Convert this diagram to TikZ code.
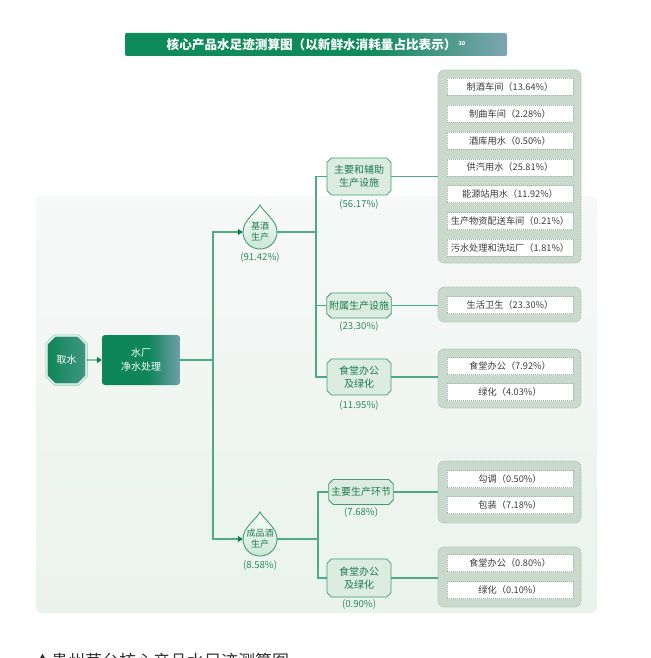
\documentclass[tikz,border=0pt]{standalone}
\usepackage{fontspec}
\setmainfont{Noto Sans CJK SC}
\usetikzlibrary{shapes.misc,arrows.meta,calc}
\definecolor{tg}{HTML}{0F8A5B}
\definecolor{tb}{HTML}{7DA6B0}
\definecolor{wg}{HTML}{0E8659}
\definecolor{wb}{HTML}{6E9FA8}
\definecolor{qg}{HTML}{0F8558}
\definecolor{qb}{HTML}{3F9681}
\definecolor{qring}{HTML}{8FCDB0}
\definecolor{lineg}{HTML}{4DAA84}
\definecolor{arrowg}{HTML}{137A4F}
\definecolor{txtg}{HTML}{1F7A4F}
\definecolor{pctg}{HTML}{2C8A5E}
\definecolor{boxfill}{HTML}{DCECE0}
\definecolor{boxdraw}{HTML}{3F9C70}
\definecolor{panelfill}{HTML}{C9D9CC}
\definecolor{paneldraw}{HTML}{9DBAA4}
\definecolor{itemdraw}{HTML}{A3B3A8}
\definecolor{itemtxt}{HTML}{3B3B3B}
\definecolor{bgtop}{HTML}{F7F8F8}
\definecolor{bgbot}{HTML}{E9F3EC}
\definecolor{dropfill}{HTML}{CBE7D5}
\definecolor{capt}{HTML}{333333}
\pgfdeclarehorizontalshading{titleshade}{100bp}{color(0bp)=(tg); color(25bp)=(tg); color(57bp)=(tg); color(75bp)=(tb); color(100bp)=(tb)}
\pgfdeclarehorizontalshading{plantshade}{100bp}{color(0bp)=(wg); color(25bp)=(wg); color(55bp)=(wg); color(75bp)=(wb); color(100bp)=(wb)}
\tikzset{
  conn/.style={draw=lineg, line width=1.1pt},
  arr/.style={conn, -{Triangle[length=5pt,width=6pt,color=arrowg,fill=arrowg]}},
  titlebar/.style={shade, shading=titleshade, rounded corners=2pt, minimum width=382pt, minimum height=23pt, text=white, inner sep=0pt, font=\bfseries\fontsize{12.6}{14}\selectfont},
  takebox/.style={chamfered rectangle, chamfered rectangle xsep=4pt, chamfered rectangle ysep=4pt, inner sep=0pt, minimum width=39pt, minimum height=48pt, left color=qg, right color=qb, draw=white, line width=1.2pt, preaction={draw=qring, line width=3pt}, text=white, font=\fontsize{10}{12}\selectfont},
  plant/.style={shade, shading=plantshade, rounded corners=3pt, minimum width=78pt, minimum height=50pt, inner sep=0pt, align=center, text=white, font=\fontsize{10}{14}\selectfont},
  droptext/.style={circle, minimum size=34pt, inner sep=0pt, align=center, text=txtg, font=\fontsize{9}{11}\selectfont},
  dropst/.style={draw=boxdraw, line width=0.9pt, top color=white, bottom color=dropfill},
  midbox/.style={chamfered rectangle, chamfered rectangle xsep=2.2pt, chamfered rectangle ysep=2.2pt, inner sep=0pt, minimum width=64pt, fill=boxfill, draw=boxdraw, line width=0.8pt, text=txtg, align=center, font=\fontsize{10}{13}\selectfont},
  pct/.style={text=pctg, inner sep=0pt, font=\fontsize{9.6}{11}\selectfont},
  panel/.style={rounded corners=6pt, fill=panelfill, draw=paneldraw, dash pattern=on 1pt off 1pt, line width=0.6pt, minimum width=143pt, inner sep=0pt},
  item/.style={fill=white, draw=itemdraw, dash pattern=on 1pt off 1pt, line width=0.5pt, minimum width=126pt, minimum height=17pt, inner sep=0pt, text=itemtxt, font=\fontsize{9.2}{11}\selectfont},
}
\newcommand{\mydrop}[2]{%
  \draw[dropst] (#1,#2-27) .. controls (#1-4,#2-19) and (#1-17,#2-12) .. (#1-17,#2) .. controls (#1-17,#2+9.4) and (#1-9.4,#2+17) .. (#1,#2+17) .. controls (#1+9.4,#2+17) and (#1+17,#2+9.4) .. (#1+17,#2) .. controls (#1+17,#2-12) and (#1+4,#2-19) .. (#1,#2-27) -- cycle;}
\begin{document}
\begin{tikzpicture}[x=1pt,y=-1pt]
\useasboundingbox (0,0) rectangle (650,658);
\fill[white] (0,0) rectangle (650,658);
\shade[top color=bgtop, bottom color=bgbot, rounded corners=6pt] (36,196) rectangle (597,613);

% title
\node[titlebar] (title) at (316,44.5) {核心产品水足迹测算图（以新鲜水消耗量占比表示）\,\raisebox{3.5pt}{\fontsize{5.5}{6}\selectfont 20}};

% source and plant
\node[takebox] (q) at (66.5,360) {取水};
\node[plant] (w) at (141,360) {水厂\\净水处理};
\draw[arr] (q) -- (w);

% droplets
\mydrop{260}{232}
\mydrop{260}{539}
\node[droptext] (d1) at (260,232) {基酒\\生产};
\node[droptext] (d2) at (260,539) {成品酒\\生产};
\node[pct] (l1) at (260,258) {(91.42\%)};
\node[pct] (l5) at (260,566) {(8.58\%)};

\coordinate (t1) at (213,360);
\draw[conn] (w.east) -- (t1);
\draw[arr] (t1) |- (d1.west);
\draw[arr] (t1) |- (d2.west);

% middle boxes
\node[midbox, minimum height=37pt] (m1) at (359,176.5) {主要和辅助\\生产设施};
\node[midbox, minimum height=25pt] (m2) at (359,305.5) {附属生产设施};
\node[midbox, minimum height=36pt] (m3) at (359,377) {食堂办公\\及绿化};
\node[midbox, minimum height=25pt] (m4) at (361,492) {主要生产环节};
\node[midbox, minimum height=38pt] (m5) at (359,578) {食堂办公\\及绿化};
\node[pct] (l2) at (359,205) {(56.17\%)};
\node[pct] (l3) at (359,327) {(23.30\%)};
\node[pct] (l4) at (359,406) {(11.95\%)};
\node[pct] (l6) at (361,513) {(7.68\%)};
\node[pct] (l7) at (359,605) {(0.90\%)};

\coordinate (j1) at (316,232);
\coordinate (j2) at (318,539);
\draw[conn] (d1.east) -- (j1);
\draw[conn] (j1) |- (m1.west);
\draw[conn] (j1) |- (m2.west);
\draw[conn] (j1) |- (m3.west);
\draw[conn] (d2.east) -- (j2);
\draw[conn] (j2) |- (m4.west);
\draw[conn] (j2) |- (m5.west);

% panels
\node[panel, minimum height=193pt] (p1) at (509.5,166.5) {};
\node[panel, minimum height=35pt] (p2) at (509.5,304.5) {};
\node[panel, minimum height=59pt] (p3) at (509.5,378.5) {};
\node[panel, minimum height=62pt] (p4) at (509.5,492) {};
\node[panel, minimum height=60pt] (p5) at (509.5,577) {};

\draw[conn] (m1.east) -- (m1.east -| p1.west);
\draw[conn] (m2.east) -- (m2.east -| p2.west);
\draw[conn] (m3.east) -- (m3.east -| p3.west);
\draw[conn] (m4.east) -- (m4.east -| p4.west);
\draw[conn] (m5.east) -- (m5.east -| p5.west);

% items
\node[item] (a1) at (510,87) {制酒车间（13.64\%）};
\node[item] (a2) at (510,113.8) {制曲车间（2.28\%）};
\node[item] (a3) at (510,140.6) {酒库用水（0.50\%）};
\node[item] (a4) at (510,167.4) {供汽用水（25.81\%）};
\node[item] (a5) at (510,194.2) {能源站用水（11.92\%）};
\node[item] (a6) at (510,221) {生产物资配送车间（0.21\%）};
\node[item] (a7) at (510,247.8) {污水处理和洗坛厂（1.81\%）};
\node[item] (b1) at (510,305) {生活卫生（23.30\%）};
\node[item] (c1) at (510,366) {食堂办公（7.92\%）};
\node[item] (c2) at (510,392) {绿化（4.03\%）};
\node[item] (e1) at (510,479) {勾调（0.50\%）};
\node[item] (e2) at (510,505) {包装（7.18\%）};
\node[item] (f1) at (510,563) {食堂办公（0.80\%）};
\node[item] (f2) at (510,590) {绿化（0.10\%）};

% caption (cut off at the bottom edge, as in the reference)
\node[anchor=base west, inner sep=0pt, text=capt, font=\fontsize{17}{20}\selectfont] (cap) at (38,667) {\raisebox{6pt}{\fontsize{9}{9}\selectfont ▲}\ 贵州茅台核心产品水足迹测算图};
\end{tikzpicture}
\end{document}
